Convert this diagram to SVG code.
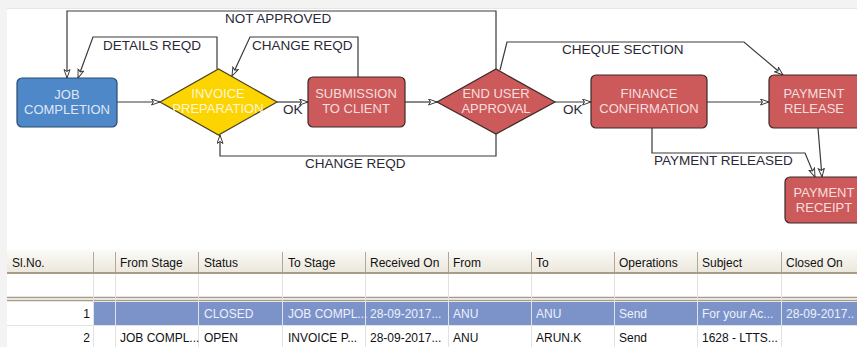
<svg xmlns="http://www.w3.org/2000/svg" width="857" height="347" viewBox="0 0 857 347">
<defs>
<style>
.lbl{font-family:"Liberation Sans",Arial,sans-serif;font-size:13.5px;fill:#2b2838}
.nt{font-family:"Liberation Sans",Arial,sans-serif;font-size:13px;text-anchor:middle}
.red{fill:#cd5a5a;stroke:#3a2a2a;stroke-width:1.2}
.cn{fill:none;stroke:#3a3a3a;stroke-width:1.2;marker-end:url(#ah)}
.th{font-family:"Liberation Sans",Tahoma,sans-serif;font-size:12px;fill:#111}
.tw{font-family:"Liberation Sans",Tahoma,sans-serif;font-size:12px;fill:#eef0fa}
.vl{stroke:#e2e2e2;stroke-width:1}
.hv{stroke:#b0a898;stroke-width:1}
</style>
<linearGradient id="hg" x1="0" y1="0" x2="0" y2="1">
<stop offset="0" stop-color="#fbfaf6"/>
<stop offset="1" stop-color="#ebe7dc"/>
</linearGradient>
<marker id="ah" markerUnits="userSpaceOnUse" markerWidth="12" markerHeight="10" refX="9" refY="3.5" orient="auto">
<path d="M0.5,0.5 L9,3.5 L0.5,6.5 L2.5,3.5 Z" fill="#fff" stroke="#3a3a3a" stroke-width="1"/>
</marker>
</defs>
<rect x="0" y="0" width="857" height="347" fill="#f3f3f3"/>
<rect x="7" y="9" width="850" height="338" fill="#fff"/>
<line x1="7" y1="8.5" x2="857" y2="8.5" stroke="#e6e6e6"/>

<g id="connectors">
<path class="cn" d="M496,69 V11 H67 V78"/>
<path class="cn" d="M217,69 V37 H93 L78,78"/>
<path class="cn" d="M358,77 V37 H250 L232,76"/>
<path class="cn" d="M117,102 H160"/>
<path class="cn" d="M277,102 H308"/>
<path class="cn" d="M405,102 H437"/>
<path class="cn" d="M496,134 V156 H220 V135"/>
<path class="cn" d="M555,102 H591"/>
<path class="cn" d="M500,70 L507,42 H744 L783,75"/>
<path class="cn" d="M707,102 H769"/>
<path class="cn" d="M652,128 V153 H805 L815,177"/>
<path class="cn" d="M818,128 L822,177"/>
<text class="lbl" x="225" y="23">NOT APPROVED</text>
<text class="lbl" x="103" y="50">DETAILS REQD</text>
<text class="lbl" x="252" y="50">CHANGE REQD</text>
<text class="lbl" x="283" y="114">OK</text>
<text class="lbl" x="305" y="168">CHANGE REQD</text>
<text class="lbl" x="563" y="114">OK</text>
<text class="lbl" x="562" y="54">CHEQUE SECTION</text>
<text class="lbl" x="654" y="165">PAYMENT RELEASED</text>
</g>

<g id="job_completion">
<rect x="17" y="78" width="100" height="49" rx="5" fill="#4f88c8" stroke="#2a4a70" stroke-width="1.2"/>
<text class="nt" x="67" y="99" fill="#dfe6f4">JOB</text>
<text class="nt" x="67" y="114" fill="#dfe6f4">COMPLETION</text>
</g>
<g id="invoice_preparation">
<polygon points="160,102 218.5,69 277,102 218.5,135" fill="#fcd400" stroke="#4a4020" stroke-width="1.2"/>
<text class="nt" x="218" y="98" fill="#fff6d8">INVOICE</text>
<text class="nt" x="218" y="113" fill="#fff6d8">PREPARATION</text>
</g>
<g id="submission_to_client">
<rect class="red" x="308" y="77" width="97" height="50" rx="5"/>
<text class="nt" x="356" y="98" fill="#f6dede">SUBMISSION</text>
<text class="nt" x="356" y="113" fill="#f6dede">TO CLIENT</text>
</g>
<g id="end_user_approval">
<polygon class="red" points="437,102 496,69 555,102 496,134"/>
<text class="nt" x="496" y="98" fill="#f6dede">END USER</text>
<text class="nt" x="496" y="113" fill="#f6dede">APPROVAL</text>
</g>
<g id="finance_confirmation">
<rect class="red" x="591" y="75" width="116" height="53" rx="5"/>
<text class="nt" x="649" y="98" fill="#f6dede">FINANCE</text>
<text class="nt" x="649" y="113" fill="#f6dede">CONFIRMATION</text>
</g>
<g id="payment_release">
<rect class="red" x="769" y="75" width="92" height="53" rx="5"/>
<text class="nt" x="814" y="98" fill="#f6dede">PAYMENT</text>
<text class="nt" x="814" y="113" fill="#f6dede">RELEASE</text>
</g>
<g id="payment_receipt">
<rect class="red" x="785" y="177" width="80" height="46" rx="5"/>
<text class="nt" x="824" y="197" fill="#f6dede">PAYMENT</text>
<text class="nt" x="824" y="212" fill="#f6dede">RECEIPT</text>
</g>

<g id="table">
<rect x="7" y="250" width="850" height="23" fill="url(#hg)"/>
<line x1="7" y1="273" x2="857" y2="273" stroke="#a89c88" stroke-width="2"/>
<rect x="93" y="302" width="764" height="23" fill="#7b93c9"/>
<line x1="7" y1="297.5" x2="857" y2="297.5" stroke="#a89c88" stroke-width="1.5"/>
<line x1="7" y1="300.5" x2="857" y2="300.5" stroke="#a89c88" stroke-width="1.5"/>
<line x1="7" y1="325.5" x2="857" y2="325.5" stroke="#e4e4e4"/>
<g>
<line class="hv" x1="93.5" y1="252" x2="93.5" y2="272"/>
<line class="hv" x1="115.5" y1="252" x2="115.5" y2="272"/>
<line class="hv" x1="198.5" y1="252" x2="198.5" y2="272"/>
<line class="hv" x1="282.5" y1="252" x2="282.5" y2="272"/>
<line class="hv" x1="365.5" y1="252" x2="365.5" y2="272"/>
<line class="hv" x1="448.5" y1="252" x2="448.5" y2="272"/>
<line class="hv" x1="531.5" y1="252" x2="531.5" y2="272"/>
<line class="hv" x1="614.5" y1="252" x2="614.5" y2="272"/>
<line class="hv" x1="697.5" y1="252" x2="697.5" y2="272"/>
<line class="hv" x1="781.5" y1="252" x2="781.5" y2="272"/>
</g>
<g>
<line class="vl" x1="93.5" y1="274" x2="93.5" y2="347"/>
<line class="vl" x1="115.5" y1="274" x2="115.5" y2="347"/>
<line class="vl" x1="198.5" y1="274" x2="198.5" y2="347"/>
<line class="vl" x1="282.5" y1="274" x2="282.5" y2="347"/>
<line class="vl" x1="365.5" y1="274" x2="365.5" y2="347"/>
<line class="vl" x1="448.5" y1="274" x2="448.5" y2="347"/>
<line class="vl" x1="531.5" y1="274" x2="531.5" y2="347"/>
<line class="vl" x1="614.5" y1="274" x2="614.5" y2="347"/>
<line class="vl" x1="697.5" y1="274" x2="697.5" y2="347"/>
<line class="vl" x1="781.5" y1="274" x2="781.5" y2="347"/>
</g>
<text class="th" x="12" y="267">Sl.No.</text>
<text class="th" x="120" y="267">From Stage</text>
<text class="th" x="204" y="267">Status</text>
<text class="th" x="288" y="267">To Stage</text>
<text class="th" x="370" y="267">Received On</text>
<text class="th" x="453" y="267">From</text>
<text class="th" x="536" y="267">To</text>
<text class="th" x="619" y="267">Operations</text>
<text class="th" x="702" y="267">Subject</text>
<text class="th" x="786" y="267">Closed On</text>

<text class="th" x="90" y="318" text-anchor="end">1</text>
<text class="tw" x="204" y="318">CLOSED</text>
<text class="tw" x="288" y="318">JOB COMPL...</text>
<text class="tw" x="370" y="318">28-09-2017...</text>
<text class="tw" x="453" y="318">ANU</text>
<text class="tw" x="536" y="318">ANU</text>
<text class="tw" x="619" y="318">Send</text>
<text class="tw" x="702" y="318">For your Ac...</text>
<text class="tw" x="786" y="318">28-09-2017..</text>

<text class="th" x="90" y="342" text-anchor="end">2</text>
<text class="th" x="120" y="342">JOB COMPL...</text>
<text class="th" x="204" y="342">OPEN</text>
<text class="th" x="288" y="342">INVOICE P...</text>
<text class="th" x="370" y="342">28-09-2017...</text>
<text class="th" x="453" y="342">ANU</text>
<text class="th" x="536" y="342">ARUN.K</text>
<text class="th" x="619" y="342">Send</text>
<text class="th" x="702" y="342">1628 - LTTS...</text>
</g>
</svg>
